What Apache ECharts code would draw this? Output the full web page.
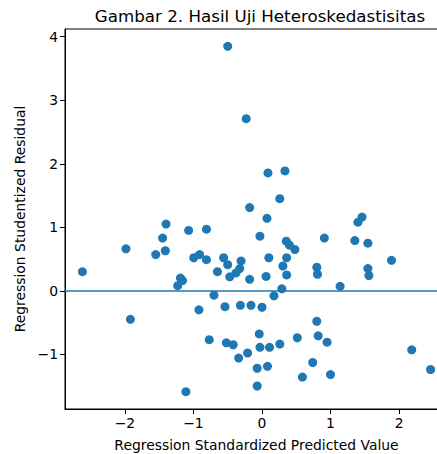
<!DOCTYPE html>
<html>
<head>
<meta charset="utf-8">
<script src="https://cdn.jsdelivr.net/npm/echarts@6/dist/echarts.min.js"></script>
<style>
html,body{margin:0;padding:0;background:#fff;}
#chart{width:437px;height:454px;}
</style>
</head>
<body>
<div id="chart"></div>
<script>
const chartTitle = 'Gambar 2. Hasil Uji Heteroskedastisitas';
const xAxisTitle = 'Regression Standardized Predicted Value';
const yAxisTitle = 'Regression Studentized Residual';
const xTicks = [-2, -1, 0, 1, 2];
const yTicks = [-1, 0, 1, 2, 3, 4];
const predictedValues = [
  -0.50, -0.23, -2.62, -1.985, -1.40, -1.45, -1.41, -1.55, -1.07, -0.995,
  -1.19, -1.16, -1.23, -0.81, -0.91, -0.81, -0.56, -0.50, -0.305, -0.65,
  -0.47, -0.38, -0.325, -0.18, -0.18, -0.70, -0.92, -1.92, -0.54, -0.315,
  -0.16, -0.77, -0.52, -0.42, -0.34, -0.21, -1.11, 0.087, 0.335, 0.26,
  0.073, -0.03, 0.355, 0.40, 0.48, 0.91, 0.10, 0.36, 0.305, 0.36,
  0.06, 0.29, 0.80, 0.81, 1.46, 1.40, 1.355, 1.545, 1.89, 1.545,
  1.56, 1.14, 0.00, 0.175, 0.80, 0.515, 0.82, 0.95, 0.74, 0.59,
  1.00, -0.04, -0.03, 0.11, 0.26, -0.07, 0.08, -0.07, 2.185, 2.46
];
const studentizedResiduals = [
  3.85, 2.71, 0.30, 0.66, 1.05, 0.83, 0.63, 0.57, 0.95, 0.52,
  0.20, 0.16, 0.08, 0.97, 0.57, 0.49, 0.52, 0.41, 0.47, 0.30,
  0.22, 0.28, 0.35, 0.18, 1.31, -0.07, -0.30, -0.45, -0.25, -0.23,
  -0.23, -0.77, -0.82, -0.85, -1.06, -0.98, -1.59, 1.855, 1.887, 1.45,
  1.14, 0.86, 0.78, 0.72, 0.65, 0.83, 0.52, 0.52, 0.39, 0.25,
  0.225, 0.03, 0.37, 0.26, 1.16, 1.08, 0.79, 0.75, 0.48, 0.35,
  0.24, 0.07, -0.26, -0.08, -0.48, -0.74, -0.71, -0.81, -1.13, -1.36,
  -1.32, -0.68, -0.89, -0.89, -0.84, -1.22, -1.19, -1.50, -0.93, -1.24
];
const referenceLineY = 0;

const points = predictedValues.map((x, i) => [x, studentizedResiduals[i]]);
const fmt = v => String(v).replace('-', '\u2212');
const FONT = 'DejaVu Sans';

const chart = echarts.init(document.getElementById('chart'), null, {renderer: 'svg'});
chart.setOption({
  animation: false,
  backgroundColor: '#ffffff',
  title: {
    text: chartTitle,
    left: 255,
    textAlign: 'center',
    top: 2,
    textStyle: {fontFamily: FONT, fontSize: 16.7, fontWeight: 'normal', color: '#000'}
  },
  grid: {
    left: 65, width: 383, top: 29, height: 380,
    outerBoundsMode: 'none',
    containLabel: false,
    show: true, borderColor: '#000', borderWidth: 1, backgroundColor: 'transparent'
  },
  xAxis: {
    type: 'value',
    min: -2.874, max: 2.714,
    name: xAxisTitle,
    nameLocation: 'middle',
    nameGap: 29,
    nameTextStyle: {fontFamily: FONT, fontSize: 13.9, color: '#000'},
    axisLine: {show: true, onZero: false, lineStyle: {color: '#000', width: 1}},
    axisTick: {show: true, length: 5, customValues: xTicks, lineStyle: {color: '#000'}},
    axisLabel: {customValues: xTicks, formatter: fmt, fontFamily: FONT, fontSize: 13.9, color: '#000', margin: 7},
    splitLine: {show: false}
  },
  yAxis: {
    type: 'value',
    min: -1.862, max: 4.122,
    name: yAxisTitle,
    nameLocation: 'middle',
    nameRotate: 90,
    nameGap: 38,
    nameTextStyle: {fontFamily: FONT, fontSize: 13.9, color: '#000'},
    axisLine: {show: true, onZero: false, lineStyle: {color: '#000', width: 1}},
    axisTick: {show: true, length: 5, customValues: yTicks, lineStyle: {color: '#000'}},
    axisLabel: {customValues: yTicks, formatter: fmt, fontFamily: FONT, fontSize: 13.9, color: '#000', margin: 7},
    splitLine: {show: false}
  },
  series: [{
    type: 'scatter',
    data: points,
    symbol: 'circle',
    symbolSize: 9,
    itemStyle: {color: '#1f77b4', opacity: 1},
    markLine: {
      silent: true,
      symbol: ['none', 'none'],
      label: {show: false},
      lineStyle: {color: '#1f77b4', width: 1.5, type: 'solid'},
      data: [{yAxis: referenceLineY}]
    }
  }]
});
</script>
</body>
</html>
